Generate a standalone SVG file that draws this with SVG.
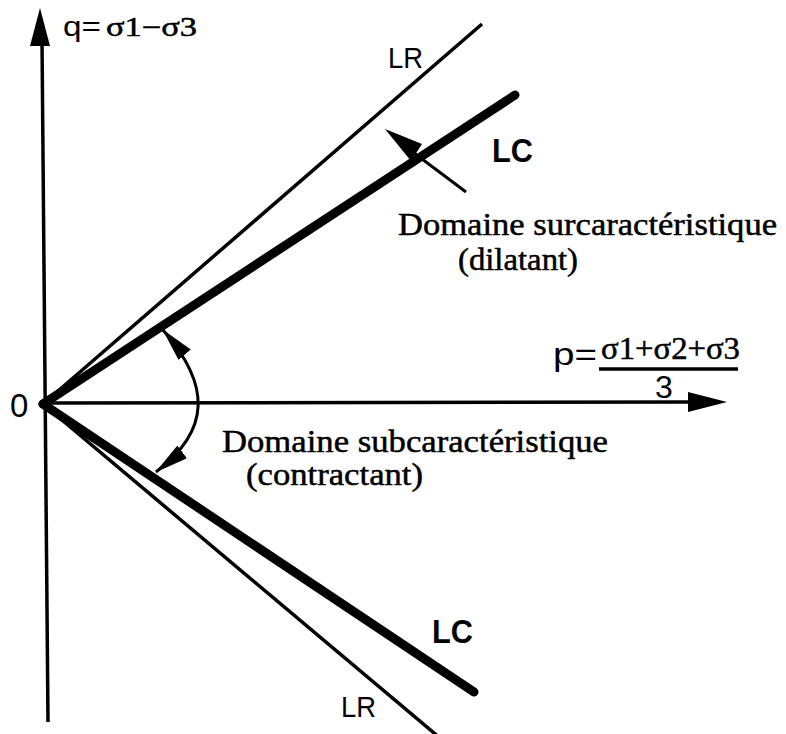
<svg xmlns="http://www.w3.org/2000/svg" width="786" height="734" viewBox="0 0 786 734">
<style>
.sans{font-family:"Liberation Sans",Arial,sans-serif;fill:#000}
.serif{font-family:"Liberation Serif","Times New Roman",serif;fill:#000;stroke:#000;stroke-width:0.5}
.thin{stroke:#000;stroke-width:3.5;fill:none}
.thick{stroke:#000;stroke-width:9;fill:none;stroke-linecap:round}
</style>
<defs>
<marker id="ah" viewBox="0 0 34 16" refX="33" refY="8" markerWidth="34" markerHeight="16" markerUnits="userSpaceOnUse" orient="auto-start-reverse">
<path d="M0,0 L34,8 L0,16 Z" fill="#000"/>
</marker>
</defs>
<rect width="786" height="734" fill="#fff"/>
<g id="axes">
<line class="thin" x1="42" y1="40" x2="48" y2="722"/>
<polygon points="40,8 30,46 50,46" fill="#000"/>
<line class="thin" x1="43" y1="403" x2="692" y2="402"/>
<polygon points="727,402 688,392 688,412" fill="#000"/>
</g>
<g id="connectors">
<line id="LR-upper" class="thin" x1="43" y1="404" x2="482" y2="24"/>
<line id="LC-upper" class="thick" x1="43" y1="404" x2="515" y2="95"/>
<line id="LC-lower" class="thick" x1="43" y1="404" x2="474" y2="692"/>
<line id="LR-lower" class="thin" x1="43" y1="404" x2="440" y2="738"/>
<g id="pointer">
<line stroke="#000" stroke-width="3" x1="410" y1="150" x2="466" y2="192"/>
<polygon points="385,129 422,144 411,161" fill="#000"/>
</g>
<path id="angle-arrow" d="M163,330 C211,385 211,430 156,472" stroke="#000" stroke-width="3" fill="none" marker-start="url(#ah)" marker-end="url(#ah)"/>
</g>
<g id="labels">
<text class="sans" x="63" y="36" font-size="28" textLength="38" lengthAdjust="spacingAndGlyphs">q=</text>
<text class="serif" x="106" y="36" font-size="27" textLength="91" lengthAdjust="spacingAndGlyphs">σ1−σ3</text>
<text class="sans" x="388" y="68" font-size="29" textLength="35" lengthAdjust="spacingAndGlyphs">LR</text>
<text class="sans" x="492" y="162" font-size="34" font-weight="bold" textLength="41" lengthAdjust="spacingAndGlyphs">LC</text>
<text class="serif" x="398" y="235" font-size="32" textLength="379" lengthAdjust="spacingAndGlyphs">Domaine surcaractéristique</text>
<text class="serif" x="458" y="270" font-size="32" textLength="120" lengthAdjust="spacingAndGlyphs">(dilatant)</text>
<text class="sans" x="553" y="365" font-size="31" textLength="44" lengthAdjust="spacingAndGlyphs">p=</text>
<text class="serif" x="601" y="359" font-size="31" textLength="139" lengthAdjust="spacingAndGlyphs">σ1+σ2+σ3</text>
<line stroke="#000" stroke-width="3.5" x1="599" y1="369" x2="738" y2="369"/>
<text class="sans" x="664" y="398" font-size="32" text-anchor="middle">3</text>
<text class="sans" x="10" y="417" font-size="33">0</text>
<text class="serif" x="222" y="452" font-size="32" textLength="386" lengthAdjust="spacingAndGlyphs">Domaine subcaractéristique</text>
<text class="serif" x="246" y="485" font-size="32" textLength="177" lengthAdjust="spacingAndGlyphs">(contractant)</text>
<text class="sans" x="432" y="643" font-size="34" font-weight="bold" textLength="41" lengthAdjust="spacingAndGlyphs">LC</text>
<text class="sans" x="341" y="717" font-size="29" textLength="35" lengthAdjust="spacingAndGlyphs">LR</text>
</g>
</svg>
